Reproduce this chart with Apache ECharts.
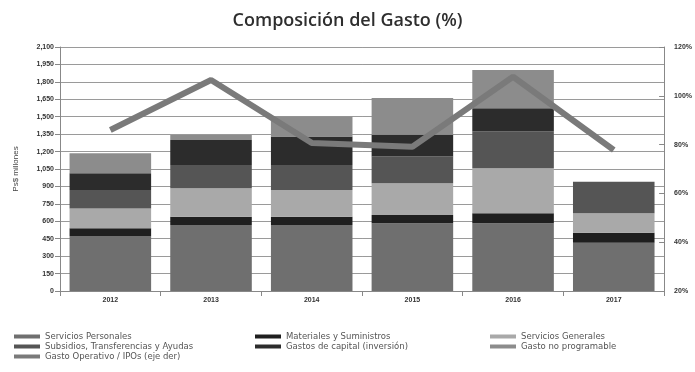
<!DOCTYPE html>
<html>
<head>
<meta charset="utf-8">
<script src="https://cdn.jsdelivr.net/npm/echarts@6/dist/echarts.min.js"></script>
<style>
  html, body { margin: 0; padding: 0; background: #ffffff; }
  #chart { width: 695px; height: 372px; }
</style>
</head>
<body>
<div id="chart"></div>
<script>
// Years on the category axis
const years = ['2012', '2013', '2014', '2015', '2016', '2017'];

// Spending components, millions of pesos (stacked bottom to top)
const serviciosPersonales   = [473, 568, 568, 583, 583, 416];
const materialesSuministros = [66, 72, 72, 72, 86, 86];
const serviciosGenerales    = [172, 244, 230, 273, 387, 167];
const subsidios             = [158, 201, 215, 230, 316, 272];
const gastosCapital         = [144, 215, 244, 187, 201, 0];
const gastoNoProgramable    = [172, 43, 172, 316, 330, 0];

// Operating expense share, percent (right axis)
const gastoOperativo = [86, 106.5, 80.7, 79.1, 107.8, 77.8];

// Tick settings
const leftMax = 2100, leftStep = 150;
const rightMin = 20, rightMax = 120, rightStep = 20;

const names = {
  sp: 'Servicios Personales',
  ms: 'Materiales y Suministros',
  sg: 'Servicios Generales',
  sub: 'Subsidios, Transferencias y Ayudas',
  cap: 'Gastos de capital (inversión)',
  gnp: 'Gasto no programable',
  op: 'Gasto Operativo / IPOs (eje der)'
};

const colors = {
  sp: '#6f6f6f',
  ms: '#1f1f1f',
  sg: '#a9a9a9',
  sub: '#555555',
  cap: '#2c2c2c',
  gnp: '#8c8c8c',
  op: '#7a7a7a'
};

function barSeries(key, data) {
  return {
    name: names[key],
    type: 'bar',
    stack: 'gasto',
    barCategoryGap: '19%',
    data: data,
    itemStyle: { color: colors[key] },
    emphasis: { disabled: true }
  };
}

const legendText = { fontSize: 8.5, color: '#555', fontFamily: 'DejaVu Sans' };
function legendCol(left, items) {
  return {
    left: left, top: 327, orient: 'vertical', itemGap: 1,
    itemWidth: 26, itemHeight: 4, textStyle: legendText,
    data: items.map(k => ({ name: names[k], icon: 'rect' })),
    selectedMode: false
  };
}

const chart = echarts.init(document.getElementById('chart'));
chart.setOption({
  animation: false,
  backgroundColor: '#ffffff',
  title: {
    text: 'Composición del Gasto (%)',
    left: 'center', top: 7,
    textStyle: { fontSize: 18, fontWeight: 600, color: '#2e2e2e', fontFamily: 'Open Sans' }
  },
  legend: [
    legendCol(9, ['sp', 'sub', 'op']),
    legendCol(250, ['ms', 'cap']),
    legendCol(485, ['sg', 'gnp'])
  ],
  grid: { left: 60, right: 28, top: 47, bottom: 81 },
  xAxis: {
    type: 'category',
    data: years,
    axisLine: { lineStyle: { color: '#888' } },
    axisTick: { show: true, lineStyle: { color: '#888' } },
    axisLabel: { fontSize: 7, color: '#333', fontWeight: 'bold', margin: 6, fontFamily: 'Liberation Sans' }
  },
  yAxis: [
    {
      type: 'value', min: 0, max: leftMax, interval: leftStep,
      name: 'Ps$ millones', nameLocation: 'middle', nameGap: 40, nameRotate: 90,
      nameTextStyle: { fontSize: 8, color: '#444', fontFamily: 'Liberation Sans' },
      axisLine: { show: true, lineStyle: { color: '#888' } },
      axisTick: { show: true, lineStyle: { color: '#888' } },
      axisLabel: {
        fontSize: 7, color: '#333', fontWeight: 'bold', margin: 6, fontFamily: 'Liberation Sans',
        formatter: v => v.toLocaleString('en-US')
      },
      splitLine: { lineStyle: { color: '#9a9a9a', width: 1 } }
    },
    {
      type: 'value', min: rightMin, max: rightMax, interval: rightStep,
      position: 'right',
      axisLine: { show: true, lineStyle: { color: '#888' } },
      axisTick: { show: true, inside: true, lineStyle: { color: '#888' } },
      axisLabel: {
        fontSize: 7, color: '#333', fontWeight: 'bold', margin: 10, fontFamily: 'Liberation Sans',
        formatter: '{value}%'
      },
      splitLine: { show: false }
    }
  ],
  series: [
    barSeries('sp', serviciosPersonales),
    barSeries('ms', materialesSuministros),
    barSeries('sg', serviciosGenerales),
    barSeries('sub', subsidios),
    barSeries('cap', gastosCapital),
    barSeries('gnp', gastoNoProgramable),
    {
      name: names.op,
      type: 'line',
      yAxisIndex: 1,
      data: gastoOperativo,
      symbol: 'none',
      lineStyle: { color: colors.op, width: 6 },
      itemStyle: { color: colors.op },
      z: 5
    }
  ]
});
</script>
</body>
</html>
